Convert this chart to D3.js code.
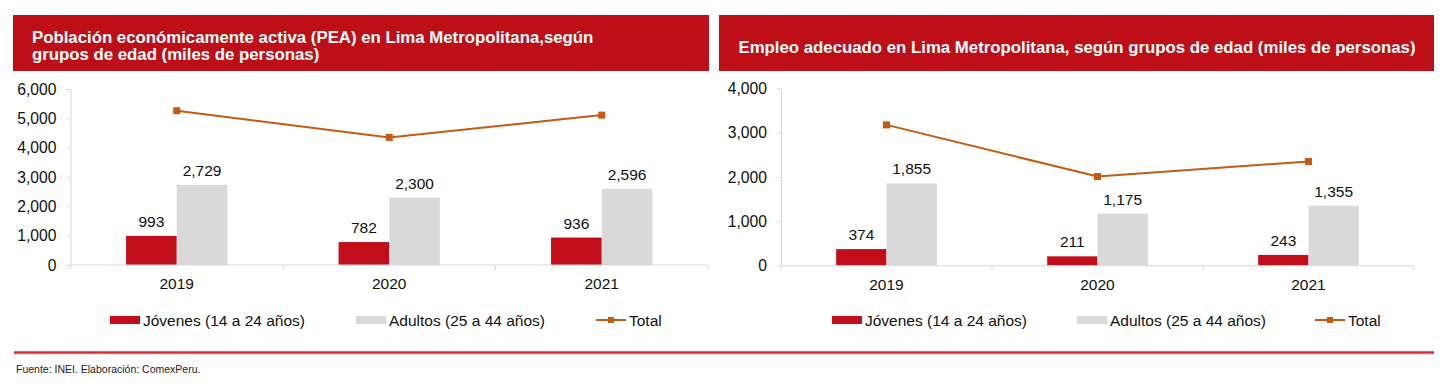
<!DOCTYPE html>
<html>
<head>
<meta charset="utf-8">
<script src="https://cdn.jsdelivr.net/npm/d3@7"></script>
<style>
  body { margin: 0; background: #fff; }
  text { font-family: "Liberation Sans", Arial, sans-serif; }
</style>
</head>
<body>
<script>
  // ---- data ----
  const years = ["2019", "2020", "2021"];
  const seriesNames = ["Jóvenes (14 a 24 años)", "Adultos (25 a 44 años)", "Total"];

  const peaJovenes = [993, 782, 936];
  const peaAdultos = [2729, 2300, 2596];
  const peaTotal = [5260, 4350, 5110];
  const peaTicks = [0, 1000, 2000, 3000, 4000, 5000, 6000];

  const empJovenes = [374, 211, 243];
  const empAdultos = [1855, 1175, 1355];
  const empTotal = [3175, 2010, 2350];
  const empTicks = [0, 1000, 2000, 3000, 4000];

  const peaTitle = ["Población económicamente activa (PEA) en Lima Metropolitana,según", "grupos de edad (miles de personas)"];
  const empTitle = ["Empleo adecuado en Lima Metropolitana, según grupos de edad (miles de personas)"];
  const source = "Fuente: INEI. Elaboración: ComexPeru.";

  // ---- styles ----
  const RED = "#C10E1A";
  const HEADER = "#BE0F18";
  const GREY = "#D9D9D9";
  const ORANGE = "#C55A11";
  const AXIS = "#D9D9D9";
  const fmt = d3.format(",");

  const svg = d3.select("body").append("svg")
    .attr("width", 1456)
    .attr("height", 389);

  function drawPanel(cfg) {
    const g = svg.append("g");

    // header box
    g.append("rect")
      .attr("x", cfg.x0).attr("y", 15)
      .attr("width", cfg.x1 - cfg.x0).attr("height", 56)
      .attr("fill", HEADER);

    const t = g.append("text")
      .attr("fill", "#fff")
      .attr("font-weight", "bold")
      .attr("font-size", "16.8px")
      .attr("text-anchor", cfg.titleAnchor);
    cfg.title.forEach((line, i) => {
      t.append("tspan").attr("x", cfg.titleX).attr("y", cfg.titleY + i * 17.5).text(line);
    });

    // scales
    const x = d3.scaleBand().domain(years).range([cfg.left, cfg.right]);
    const xs = d3.scaleBand().domain(["j", "a"]).range([0, x.bandwidth()]).paddingOuter(1.097);
    const y = d3.scaleLinear().domain([0, d3.max(cfg.ticks)]).range([cfg.bottom, cfg.top]);

    // y axis
    const yAxis = g.append("g")
      .attr("transform", `translate(${cfg.left},0)`)
      .call(d3.axisLeft(y).tickValues(cfg.ticks).tickFormat(fmt).tickSize(4).tickSizeOuter(0).tickPadding(10));
    yAxis.select(".domain").attr("stroke", AXIS);
    yAxis.selectAll(".tick line").attr("stroke", AXIS);
    yAxis.selectAll("text").attr("font-size", "15.7px").attr("fill", "#111").attr("font-family", "Liberation Sans, Arial, sans-serif");

    // bars
    const rows = years.map((yr, i) => ({ yr, j: cfg.jov[i], a: cfg.adu[i], t: cfg.tot[i] }));
    const bars = [];
    rows.forEach(r => {
      bars.push({ yr: r.yr, k: "j", v: r.j });
      bars.push({ yr: r.yr, k: "a", v: r.a });
    });

    g.append("g").selectAll("rect")
      .data(bars)
      .join("rect")
      .attr("x", d => x(d.yr) + xs(d.k))
      .attr("y", d => y(d.v))
      .attr("width", xs.bandwidth())
      .attr("height", d => y(0) - y(d.v))
      .attr("fill", d => d.k === "j" ? RED : GREY);

    g.append("g").selectAll("text")
      .data(bars)
      .join("text")
      .attr("x", d => x(d.yr) + xs(d.k) + xs.bandwidth() / 2)
      .attr("y", d => y(d.v) - 9)
      .attr("text-anchor", "middle")
      .attr("font-size", "15.5px")
      .attr("fill", "#111")
      .text(d => fmt(d.v));

    // x axis
    const xa = g.append("g");
    xa.append("line")
      .attr("x1", cfg.left).attr("x2", cfg.right)
      .attr("y1", y(0)).attr("y2", y(0))
      .attr("stroke", AXIS);
    const bounds = years.map(d => x(d)).concat([cfg.right]);
    xa.selectAll(".sep")
      .data(bounds)
      .join("line")
      .attr("class", "sep")
      .attr("x1", d => d).attr("x2", d => d)
      .attr("y1", y(0)).attr("y2", y(0) + 5)
      .attr("stroke", AXIS);
    xa.selectAll(".lbl")
      .data(years)
      .join("text")
      .attr("class", "lbl")
      .attr("x", d => x(d) + x.bandwidth() / 2)
      .attr("y", y(0) + 24)
      .attr("text-anchor", "middle")
      .attr("font-size", "15.5px")
      .attr("fill", "#111")
      .text(d => d);

    // total line
    const cx = d => x(d.yr) + x.bandwidth() / 2;
    g.append("path")
      .datum(rows)
      .attr("d", d3.line().x(cx).y(d => y(d.t)))
      .attr("fill", "none")
      .attr("stroke", ORANGE)
      .attr("stroke-width", 2);
    g.append("g").selectAll("rect")
      .data(rows)
      .join("rect")
      .attr("x", d => cx(d) - 3.5)
      .attr("y", d => y(d.t) - 3.5)
      .attr("width", 7).attr("height", 7)
      .attr("fill", ORANGE);

    // legend
    const lg = g.append("g").attr("transform", "translate(0,320)");
    const items = lg.selectAll("g")
      .data(seriesNames)
      .join("g")
      .attr("transform", (d, i) => `translate(${cfg.legendX[i]},0)`);
    items.filter((d, i) => i < 2).append("rect")
      .attr("x", 0).attr("y", -4).attr("width", 30).attr("height", 8)
      .attr("fill", (d, i) => i === 0 ? RED : GREY);
    const tl = items.filter((d, i) => i === 2);
    tl.append("line").attr("x1", 0).attr("x2", 30).attr("y1", 0).attr("y2", 0)
      .attr("stroke", ORANGE).attr("stroke-width", 2);
    tl.append("rect").attr("x", 12).attr("y", -3).attr("width", 6).attr("height", 6).attr("fill", ORANGE);
    items.append("text")
      .attr("x", 33)
      .attr("y", 5.5)
      .attr("font-size", "15.5px")
      .attr("fill", "#111")
      .text(d => d);
  }

  drawPanel({
    x0: 13, x1: 709, title: peaTitle, titleX: 32, titleY: 42.5, titleAnchor: "start",
    left: 70.5, right: 708, top: 89, bottom: 265,
    ticks: peaTicks, jov: peaJovenes, adu: peaAdultos, tot: peaTotal,
    legendX: [110, 356, 596]
  });

  drawPanel({
    x0: 719, x1: 1434, title: empTitle, titleX: 1077, titleY: 52.5, titleAnchor: "middle",
    left: 781, right: 1414, top: 88.3, bottom: 265.7,
    ticks: empTicks, jov: empJovenes, adu: empAdultos, tot: empTotal,
    legendX: [832, 1077, 1315]
  });

  // footer rule and source
  svg.append("line")
    .attr("x1", 14).attr("x2", 1434)
    .attr("y1", 354).attr("y2", 354)
    .attr("stroke", "#E5E5E5").attr("stroke-width", 2);
  svg.append("line")
    .attr("x1", 14).attr("x2", 1434)
    .attr("y1", 352.5).attr("y2", 352.5)
    .attr("stroke", "#D7303C").attr("stroke-width", 2.5);
  svg.append("text")
    .attr("x", 16).attr("y", 373)
    .attr("font-size", "10.5px")
    .attr("fill", "#222")
    .text(source);
</script>
</body>
</html>
